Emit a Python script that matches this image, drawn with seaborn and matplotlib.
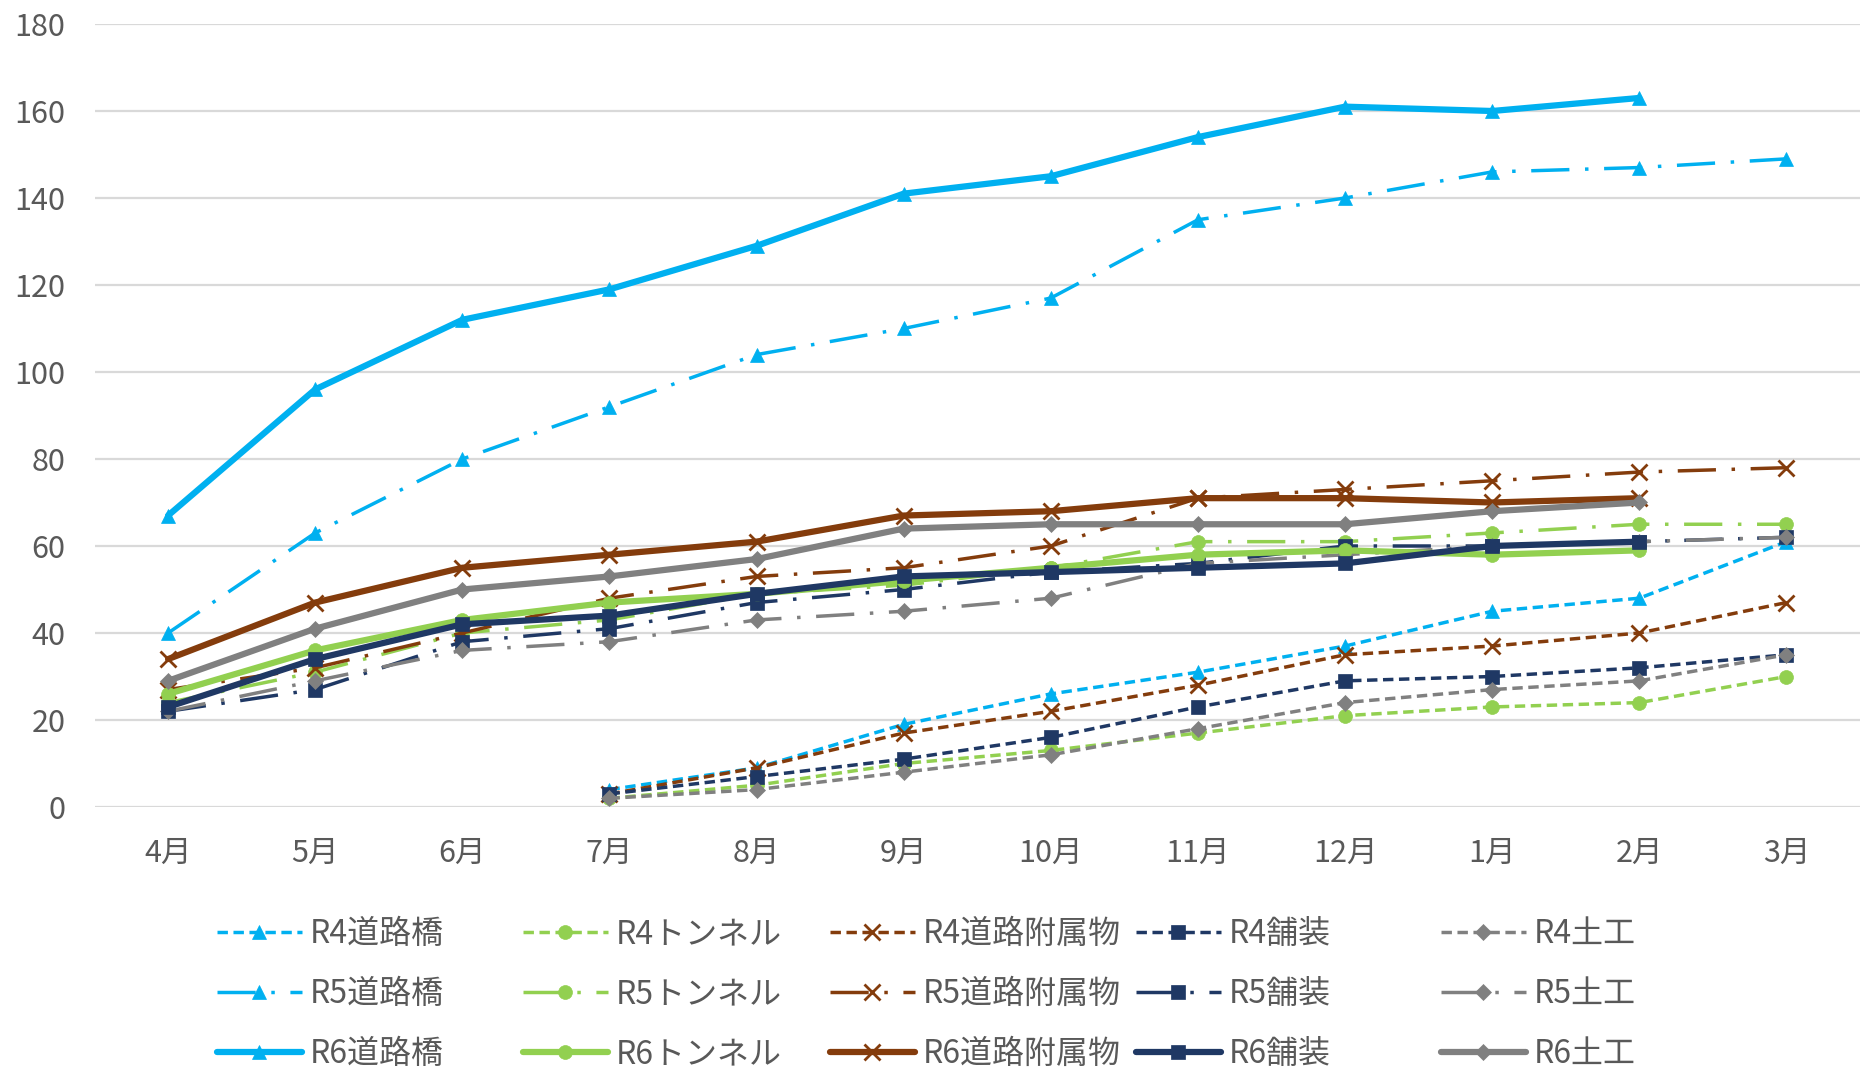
import numpy as np
import pandas as pd
import matplotlib
matplotlib.use("Agg")
import matplotlib.pyplot as plt
import seaborn as sns

sns.set_style("white")
plt.rcParams['font.family'] = ['Noto Sans CJK JP', 'DejaVu Sans']

months = ["4月", "5月", "6月", "7月", "8月", "9月", "10月", "11月", "12月", "1月", "2月", "3月"]
na = np.nan

# R4 (令和4年度) - starts in July
r4_bridge = [na, na, na, 4, 9, 19, 26, 31, 37, 45, 48, 61]
r4_tunnel = [na, na, na, 2, 5, 10, 13, 17, 21, 23, 24, 30]
r4_facility = [na, na, na, 3, 9, 17, 22, 28, 35, 37, 40, 47]
r4_pavement = [na, na, na, 3, 7, 11, 16, 23, 29, 30, 32, 35]
r4_earth = [na, na, na, 2, 4, 8, 12, 18, 24, 27, 29, 35]

# R5
r5_bridge = [40, 63, 80, 92, 104, 110, 117, 135, 140, 146, 147, 149]
r5_tunnel = [24, 31, 40, 43, 49, 51, 55, 61, 61, 63, 65, 65]
r5_facility = [27, 32, 40, 48, 53, 55, 60, 71, 73, 75, 77, 78]
r5_pavement = [22, 27, 38, 41, 47, 50, 54, 56, 60, 60, 61, 62]
r5_earth = [22, 29, 36, 38, 43, 45, 48, 56, 58, 60, 61, 62]

# R6 - up to February
r6_bridge = [67, 96, 112, 119, 129, 141, 145, 154, 161, 160, 163, na]
r6_tunnel = [26, 36, 43, 47, 49, 52, 55, 58, 59, 58, 59, na]
r6_facility = [34, 47, 55, 58, 61, 67, 68, 71, 71, 70, 71, na]
r6_pavement = [23, 34, 42, 44, 49, 53, 54, 55, 56, 60, 61, na]
r6_earth = [29, 41, 50, 53, 57, 64, 65, 65, 65, 68, 70, na]

categories = ["道路橋", "トンネル", "道路附属物", "舗装", "土工"]
years = ["R4", "R5", "R6"]
series = {
    "R4": [r4_bridge, r4_tunnel, r4_facility, r4_pavement, r4_earth],
    "R5": [r5_bridge, r5_tunnel, r5_facility, r5_pavement, r5_earth],
    "R6": [r6_bridge, r6_tunnel, r6_facility, r6_pavement, r6_earth],
}

colors = ["#00B0F0", "#92D050", "#843C0C", "#1F3864", "#808080"]
markers = ["^", "o", "x", "s", "D"]
msizes = [10, 10, 11, 10, 8]
lstyle = {"R4": (0, (3.0, 1.6)), "R5": (0, (11, 4.5, 1, 4.5)), "R6": "-"}
lwidth = {"R4": 2.5, "R5": 2.5, "R6": 4.5}

fig = plt.figure(figsize=(18.6, 10.71), dpi=100)
ax = fig.add_axes([94.5 / 1860, 1 - 807 / 1071, 1 - 94.5 / 1860, (807 - 24) / 1071])

handles = {}
for yr in years:
    for i, cat in enumerate(categories):
        df = pd.DataFrame({"x": np.arange(len(months)), "y": series[yr][i]}).dropna()
        sns.lineplot(data=df, x="x", y="y", ax=ax, color=colors[i], lw=lwidth[yr],
                     linestyle=lstyle[yr], marker=markers[i], markersize=msizes[i],
                     markeredgecolor=colors[i], markerfacecolor=colors[i],
                     markeredgewidth=2 if markers[i] == "x" else 0.5,
                     label=yr + cat, legend=False)
        handles[(yr, cat)] = ax.lines[-1]

ax.set_xlim(-0.5, 11.5)
ax.set_ylim(0, 180)
ax.set_yticks(range(0, 181, 20))
ax.set_xticks(range(len(months)))
ax.set_xticklabels(months)
ax.set(xlabel="", ylabel="")
ax.grid(axis="y", color="#D9D9D9", lw=1.6)
ax.set_axisbelow(True)
for s in ax.spines.values():
    s.set_visible(False)
ax.tick_params(axis="both", length=0, labelsize=22, colors="#595959")
ax.tick_params(axis="y", pad=21)
ax.tick_params(axis="x", pad=22)

col_x = [217, 523, 830, 1136, 1441]
for i, cat in enumerate(categories):
    hs = [handles[(yr, cat)] for yr in years]
    fig.legend(hs, [yr + cat for yr in years], loc="upper left",
               bbox_to_anchor=(col_x[i] / 1860, 1 - 918 / 1071),
               frameon=False, fontsize=23, borderpad=0, borderaxespad=0,
               handlelength=2.65, handletextpad=0.25, labelspacing=0.88,
               numpoints=1, labelcolor="#595959")

fig.savefig("out.png", dpi=100)
